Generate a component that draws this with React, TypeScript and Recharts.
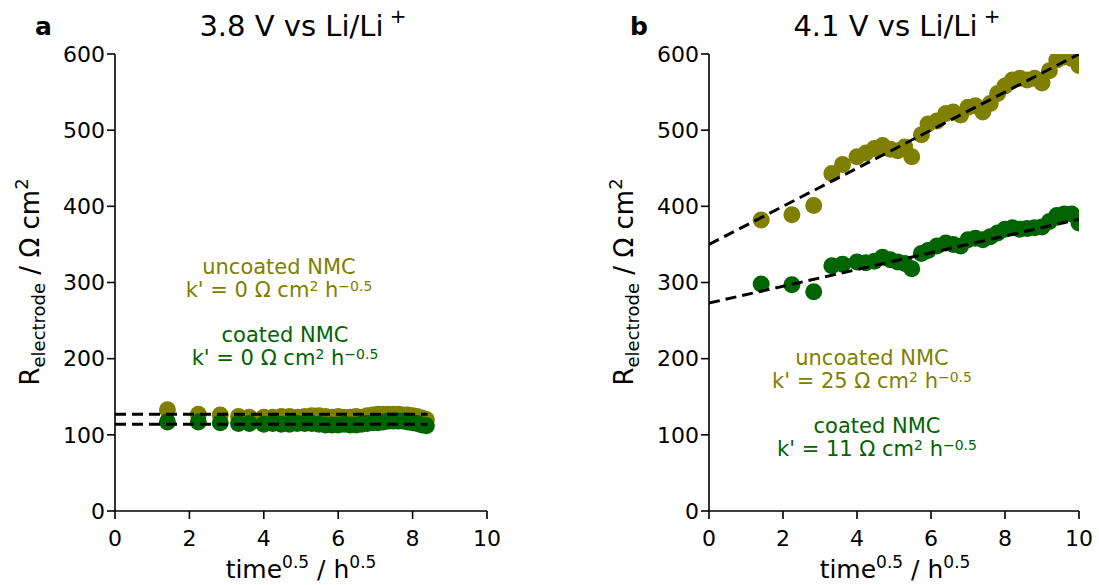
import React from 'react';
import { ComposedChart, Scatter, XAxis, YAxis } from 'recharts';

// sqrt(time) sampling points, 3.8 V hold
const timeA = [1.41, 2.24, 2.83, 3.32, 3.61, 4.0, 4.24, 4.47, 4.69, 4.9, 5.1, 5.29, 5.48, 5.66, 5.83, 6.0, 6.16, 6.32, 6.48, 6.63, 6.78, 6.93, 7.07, 7.21, 7.35, 7.48, 7.62, 7.75, 7.87, 8.0, 8.12, 8.25, 8.37];
const uncoatedA = [133, 127, 126, 124, 123, 123, 123, 124, 124, 123, 124, 125, 125, 124, 123, 124, 123, 123, 124, 123, 125, 126, 127, 127, 127, 127, 127, 126, 126, 125, 124, 122, 120];
const coatedA = [117, 117, 116, 115, 115, 114, 115, 114, 114, 115, 115, 115, 114, 113, 113, 113, 114, 113, 113, 114, 115, 116, 116, 117, 118, 118, 118, 118, 117, 116, 115, 113, 112];

// sqrt(time) sampling points, 4.1 V hold
const timeB = [1.41, 2.24, 2.83, 3.32, 3.61, 4.0, 4.24, 4.47, 4.69, 4.9, 5.1, 5.29, 5.48, 5.74, 5.92, 6.16, 6.4, 6.6, 6.8, 7.0, 7.2, 7.4, 7.6, 7.8, 8.0, 8.2, 8.4, 8.6, 8.8, 9.0, 9.2, 9.4, 9.6, 9.8, 10.0];
const uncoatedB = [382, 389, 401, 443, 455, 465, 470, 476, 480, 475, 473, 478, 465, 494, 508, 512, 522, 524, 520, 530, 532, 524, 535, 548, 558, 566, 568, 566, 568, 562, 578, 592, 596, 594, 585];
const coatedB = [298, 297, 288, 322, 324, 327, 326, 328, 333, 330, 327, 325, 318, 338, 342, 348, 352, 350, 348, 356, 358, 356, 360, 365, 370, 372, 370, 371, 372, 373, 380, 388, 390, 390, 378];

// linear fits: [intercept, k'] and fitted x-range
const fitUncoatedA = [127, 0];
const fitCoatedA = [114, 0];
const fitRangeA = [0, 8.4];
const fitUncoatedB = [350, 25];
const fitCoatedB = [273, 11];
const fitRangeB = [0, 10];

const xTicks = [0, 2, 4, 6, 8, 10];
const yTicks = [0, 100, 200, 300, 400, 500, 600];

const OLIVE = '#808000';
const GREEN = '#006400';
const FONT = 'DejaVu Sans, sans-serif';

const toPoints = (xs: number[], ys: number[]) => xs.map((x, i) => ({ x, y: ys[i] }));
const fitLine = (fit: number[], range: number[]) => range.map(x => ({ x, y: fit[0] + fit[1] * x }));

const dot = (color: string) => (p: any) => <circle cx={p.cx} cy={p.cy} r={8.5} fill={color} />;
const noDot = () => <g />;

const tickStyle = { fill: '#000', fontSize: 22, fontFamily: FONT };
const axisLine = { stroke: '#000', strokeWidth: 1.6 };
const fitStyle = { stroke: '#000', strokeWidth: 3, strokeDasharray: '11 6', fill: 'none' };

interface PanelProps {
  left: number;
  width: number;
  marginLeft: number;
  marginRight: number;
  time: number[];
  uncoated: number[];
  coated: number[];
  fits: number[][];
  range: number[];
}

const Panel = ({ left, width, marginLeft, marginRight, time, uncoated, coated, fits, range }: PanelProps) => (
  <div style={{ position: 'absolute', left, top: 0 }}>
    <ComposedChart width={width} height={585} margin={{ top: 54, right: marginRight, bottom: 44, left: marginLeft }}>
      <XAxis type="number" dataKey="x" domain={[0, 10]} ticks={xTicks} allowDataOverflow
        tick={tickStyle} tickSize={8} tickMargin={11} height={30}
        axisLine={axisLine} tickLine={axisLine} />
      <XAxis xAxisId="top" orientation="top" type="number" dataKey="x" domain={[0, 10]} height={0}
        tick={false} tickLine={false} axisLine={axisLine} />
      <YAxis type="number" dataKey="y" domain={[0, 600]} ticks={yTicks} allowDataOverflow
        tick={tickStyle} tickSize={8} tickMargin={2} width={60}
        axisLine={axisLine} tickLine={axisLine} />
      <YAxis yAxisId="right" orientation="right" type="number" dataKey="y" domain={[0, 600]} width={0}
        tick={false} tickLine={false} axisLine={axisLine} />
      <Scatter data={toPoints(time, uncoated)} shape={dot(OLIVE)} isAnimationActive={false} />
      <Scatter data={toPoints(time, coated)} shape={dot(GREEN)} isAnimationActive={false} />
      {fits.map((f, i) => (
        <Scatter key={i} data={fitLine(f, range)} line={fitStyle} lineType="joint" shape={noDot}
          isAnimationActive={false} />
      ))}
    </ComposedChart>
  </div>
);

const YLabel = ({ x }: { x: number }) => (
  <text transform={`translate(${x},282) rotate(-90)`} textAnchor="middle" fontSize={26} fontFamily={FONT}>
    R<tspan dy={6} fontSize={18}>electrode</tspan><tspan dy={-6}> / Ω cm</tspan><tspan dy={-11} fontSize={18}>2</tspan>
  </text>
);

const XLabel = ({ x }: { x: number }) => (
  <text x={x} y={578} textAnchor="middle" fontSize={25} fontFamily={FONT}>
    time<tspan dy={-10} fontSize={17}>0.5</tspan><tspan dy={10}> / h</tspan><tspan dy={-10} fontSize={17}>0.5</tspan>
  </text>
);

const Title = ({ x, text }: { x: number; text: string }) => (
  <text x={x} y={36} textAnchor="middle" fontSize={29} fontFamily={FONT}>
    {text}<tspan dy={-13} fontSize={20}> +</tspan>
  </text>
);

const Note = ({ x, y, name, k, color }: { x: number; y: number; name: string; k: number; color: string }) => (
  <g fill={color} fontSize={21} fontFamily={FONT} textAnchor="middle">
    <text x={x} y={y}>{name}</text>
    <text x={x} y={y + 23}>
      k' = {k} Ω cm<tspan dy={-6} fontSize={14}>2</tspan><tspan dy={6}> h</tspan><tspan dy={-6} fontSize={14}>−0.5</tspan>
    </text>
  </g>
);

export default function App() {
  return (
    <div style={{ position: 'absolute', left: 0, top: 0, width: 1099, height: 585, background: '#fff' }}>
      <Panel left={0} width={500} marginLeft={55} marginRight={13} time={timeA} uncoated={uncoatedA} coated={coatedA}
        fits={[fitUncoatedA, fitCoatedA]} range={fitRangeA} />
      <Panel left={600} width={499} marginLeft={49} marginRight={20} time={timeB} uncoated={uncoatedB} coated={coatedB}
        fits={[fitUncoatedB, fitCoatedB]} range={fitRangeB} />
      <svg width={1099} height={585} style={{ position: 'absolute', left: 0, top: 0, pointerEvents: 'none' }}>
        <text x={35} y={35} fontSize={25} fontWeight="bold" fontFamily={FONT}>a</text>
        <text x={630} y={35} fontSize={25} fontWeight="bold" fontFamily={FONT}>b</text>
        <Title x={303} text="3.8 V vs Li/Li" />
        <Title x={897} text="4.1 V vs Li/Li" />
        <YLabel x={39} />
        <YLabel x={633} />
        <XLabel x={301} />
        <XLabel x={895} />
        <Note x={279} y={274} name="uncoated NMC" k={0} color={OLIVE} />
        <Note x={285} y={342} name="coated NMC" k={0} color={GREEN} />
        <Note x={872} y={365} name="uncoated NMC" k={25} color={OLIVE} />
        <Note x={877} y={433} name="coated NMC" k={11} color={GREEN} />
      </svg>
    </div>
  );
}
